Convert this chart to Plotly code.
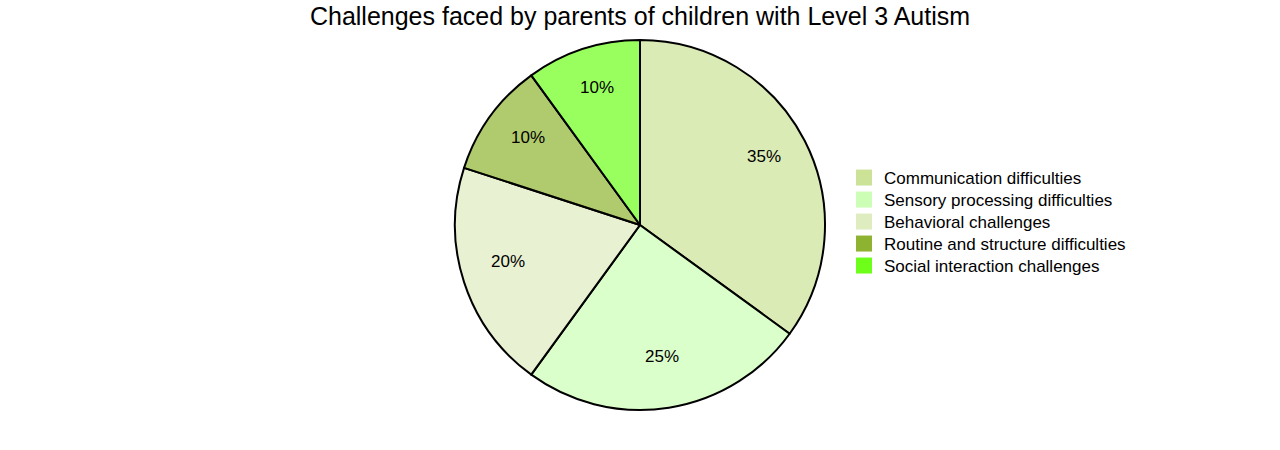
import math
import plotly.graph_objects as go

labels = ["Communication difficulties", "Sensory processing difficulties",
          "Behavioral challenges", "Routine and structure difficulties",
          "Social interaction challenges"]
values = [35, 25, 20, 10, 10]
colors = ["#cce297", "#ccffb5", "#deecc0", "#8eb330", "#6dff19"]
title = "Challenges faced by parents of children with Level 3 Autism"

W, H = 1280, 450
CX, CY, R = 640, 225, 185
FONT = "Liberation Sans, Arial, sans-serif"
LEG_X, LEG_Y0, LEG_STEP = 844, 178, 22


def rgba(h, a):
    h = h.lstrip("#")
    return "rgba(%d,%d,%d,%s)" % (int(h[0:2], 16), int(h[2:4], 16), int(h[4:6], 16), a)


fig = go.Figure()
fig.add_trace(go.Pie(
    labels=labels, values=values, sort=False, direction="clockwise", rotation=0,
    marker=dict(colors=[rgba(c, 0.7) for c in colors], line=dict(color="#000000", width=2)),
    textinfo="none", hoverinfo="label+percent", showlegend=False,
    domain=dict(x=[(CX - R) / W, (CX + R) / W], y=[(H - CY - R) / H, (H - CY + R) / H]),
))

# legend entries via dummy traces (full-opacity colour swatches), one legend per row
legend_layout = {}
for i, (lab, c) in enumerate(zip(labels, colors)):
    key = "legend" if i == 0 else "legend%d" % (i + 1)
    fig.add_trace(go.Scatter(x=[None], y=[None], mode="markers", name=lab,
                             marker=dict(symbol="square", size=16, color=c),
                             showlegend=True, legend=key))
    legend_layout[key] = dict(
        x=LEG_X / W, xanchor="left", y=(H - (LEG_Y0 + i * LEG_STEP)) / H, yanchor="middle",
        font=dict(family=FONT, size=17, color="#000000"),
        bgcolor="rgba(0,0,0,0)", itemclick=False, itemdoubleclick=False,
    )

# percentage labels at 0.75 radius
total = sum(values)
cum = 0
annotations = []
for v in values:
    mid = (cum + v / 2) / total * 2 * math.pi
    cum += v
    px = CX + 0.75 * R * math.sin(mid)
    py = CY - 0.75 * R * math.cos(mid)
    annotations.append(dict(
        x=px / W, y=(H - py) / H, xref="paper", yref="paper",
        text="%d%%" % round(v / total * 100), showarrow=False,
        xanchor="center", yanchor="middle", yshift=6,
        font=dict(family=FONT, size=17, color="#000000"),
    ))

fig.update_layout(
    width=W, height=H, autosize=False,
    margin=dict(l=0, r=0, t=0, b=0),
    paper_bgcolor="white", plot_bgcolor="white",
    title=dict(text=title, x=0.5, xanchor="center", y=1 - 16 / H, yanchor="middle",
               font=dict(family=FONT, size=25, color="#000000")),
    xaxis=dict(visible=False), yaxis=dict(visible=False),
    annotations=annotations,
    **legend_layout,
)

fig.write_html("out.html")
